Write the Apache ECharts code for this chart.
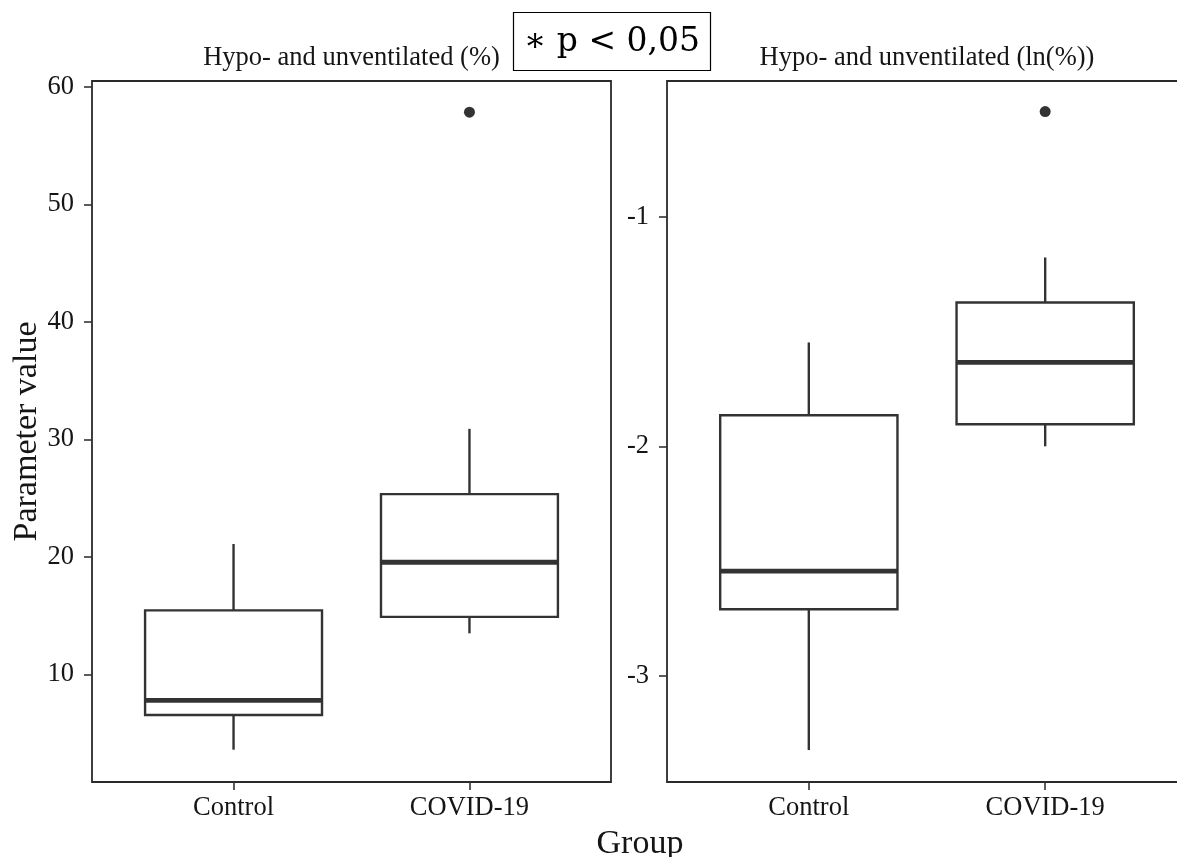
<!DOCTYPE html>
<html>
<head>
<meta charset="utf-8">
<script src="https://cdn.jsdelivr.net/npm/echarts@6/dist/echarts.min.js"></script>
<style>
  html, body { margin: 0; padding: 0; background: #fff; }
  #chart { width: 1177px; height: 857px; }
</style>
</head>
<body>
<div id="chart"></div>
<script>
// ---- data ----
const categories = ['Control', 'COVID-19'];
// [lower whisker, Q1, median, Q3, upper whisker]
const pctStats = [
  [3.6, 6.55, 7.8, 15.45, 21.1],
  [13.5, 14.9, 19.55, 25.35, 30.9]
];
const pctOutliers = [[2, 57.85]];
const lnStats = [
  [-3.322, -2.709, -2.543, -1.865, -1.548],
  [-2.0, -1.904, -1.635, -1.374, -1.178]
];
const lnOutliers = [[2, -0.543]];
const pctTicks = [10, 20, 30, 40, 50, 60];
const lnTicks = [-3, -2, -1];
const catTicks = [1, 2];
const panelTitles = ['Hypo- and unventilated (%)', 'Hypo- and unventilated (ln(%))'];
const yName = 'Parameter value';
const xName = 'Group';
const pText = '\u2217 p < 0,05';

const FONT = 'Liberation Serif';
const INK = '#333333';
const TXT = '#151515';

function boxData(stats) {
  return stats.map((s, i) => [i + 1].concat(s));
}

function renderBox(params, api) {
  const x = api.value(0);
  const lo = api.value(1), q1 = api.value(2), med = api.value(3), q3 = api.value(4), hi = api.value(5);
  const hw = 0.375;
  const tl = api.coord([x - hw, q3]);
  const br = api.coord([x + hw, q1]);
  const pHi = api.coord([x, hi]);
  const pQ3 = api.coord([x, q3]);
  const pQ1 = api.coord([x, q1]);
  const pLo = api.coord([x, lo]);
  const mL = api.coord([x - hw, med]);
  const mR = api.coord([x + hw, med]);
  const lw = 2.4;
  return {
    type: 'group',
    children: [
      { type: 'line', shape: { x1: pHi[0], y1: pHi[1], x2: pQ3[0], y2: pQ3[1] }, style: { stroke: INK, lineWidth: lw } },
      { type: 'line', shape: { x1: pQ1[0], y1: pQ1[1], x2: pLo[0], y2: pLo[1] }, style: { stroke: INK, lineWidth: lw } },
      { type: 'rect', shape: { x: tl[0], y: tl[1], width: br[0] - tl[0], height: br[1] - tl[1] }, style: { fill: '#fff', stroke: INK, lineWidth: lw } },
      { type: 'line', shape: { x1: mL[0], y1: mL[1], x2: mR[0], y2: mR[1] }, style: { stroke: INK, lineWidth: 4.8 } }
    ]
  };
}

function xAxisCfg(gridIndex) {
  return {
    type: 'value', gridIndex, min: 0.4, max: 2.6,
    axisLine: { show: false },
    splitLine: { show: false },
    axisTick: { show: true, length: 8, customValues: catTicks, lineStyle: { color: INK, width: 1.6 } },
    axisLabel: {
      customValues: catTicks, margin: 13,
      formatter: v => categories[Math.round(v) - 1] || '',
      fontFamily: FONT, fontSize: 26.5, color: TXT
    }
  };
}

function yAxisCfg(gridIndex, min, max, ticks, extra) {
  return Object.assign({
    type: 'value', gridIndex, min, max,
    axisLine: { show: false },
    splitLine: { show: false },
    axisTick: { show: true, length: 8, customValues: ticks, lineStyle: { color: INK, width: 1.6 } },
    axisLabel: { customValues: ticks, margin: 18, fontFamily: FONT, fontSize: 26.5, color: TXT }
  }, extra || {});
}

const chart = echarts.init(document.getElementById('chart'), null, { renderer: 'canvas' });

const gridBase = {
  show: true, top: 81, bottom: 75, borderColor: '#2a2a2a', borderWidth: 1.8,
  backgroundColor: 'transparent', containLabel: false, outerBoundsMode: 'none'
};

const option = {
  backgroundColor: '#fff',
  animation: false,
  grid: [
    Object.assign({ left: 92, right: 566 }, gridBase),
    Object.assign({ left: 667, right: -10 }, gridBase)
  ],
  xAxis: [xAxisCfg(0), xAxisCfg(1)],
  yAxis: [
    yAxisCfg(0, 0.85, 60.5, pctTicks, {
      name: yName, nameLocation: 'middle', nameGap: 44, nameRotate: 90,
      nameTextStyle: { fontFamily: FONT, fontSize: 34, color: TXT }
    }),
    yAxisCfg(1, -3.461, -0.41, lnTicks)
  ],
  series: [
    { type: 'custom', xAxisIndex: 0, yAxisIndex: 0, renderItem: renderBox, data: boxData(pctStats), encode: { x: 0, y: [1, 2, 3, 4, 5] }, clip: false },
    { type: 'scatter', xAxisIndex: 0, yAxisIndex: 0, data: pctOutliers, symbol: 'circle', symbolSize: 11, itemStyle: { color: INK, opacity: 1 } },
    { type: 'custom', xAxisIndex: 1, yAxisIndex: 1, renderItem: renderBox, data: boxData(lnStats), encode: { x: 0, y: [1, 2, 3, 4, 5] }, clip: false },
    { type: 'scatter', xAxisIndex: 1, yAxisIndex: 1, data: lnOutliers, symbol: 'circle', symbolSize: 11, itemStyle: { color: INK, opacity: 1 } }
  ],
  graphic: [
    { type: 'text', x: 351.5, y: 58, style: { text: panelTitles[0], fontFamily: FONT, fontSize: 26.5, fill: TXT, align: 'center', verticalAlign: 'middle' } },
    { type: 'text', x: 927, y: 58, style: { text: panelTitles[1], fontFamily: FONT, fontSize: 26.5, fill: TXT, align: 'center', verticalAlign: 'middle' } },
    { type: 'text', x: 640, y: 844, style: { text: xName, fontFamily: FONT, fontSize: 34, fill: TXT, align: 'center', verticalAlign: 'middle' } },
    { type: 'rect', shape: { x: 513.5, y: 12.5, width: 197, height: 58 }, style: { fill: '#fff', stroke: '#000', lineWidth: 1.2 }, z: 10 },
    { type: 'text', x: 612, y: 42, style: { text: pText, fontFamily: 'DejaVu Serif, Liberation Serif', fontSize: 33, fill: '#000', align: 'center', verticalAlign: 'middle' }, z: 11 }
  ]
};

chart.setOption(option);
</script>
</body>
</html>
